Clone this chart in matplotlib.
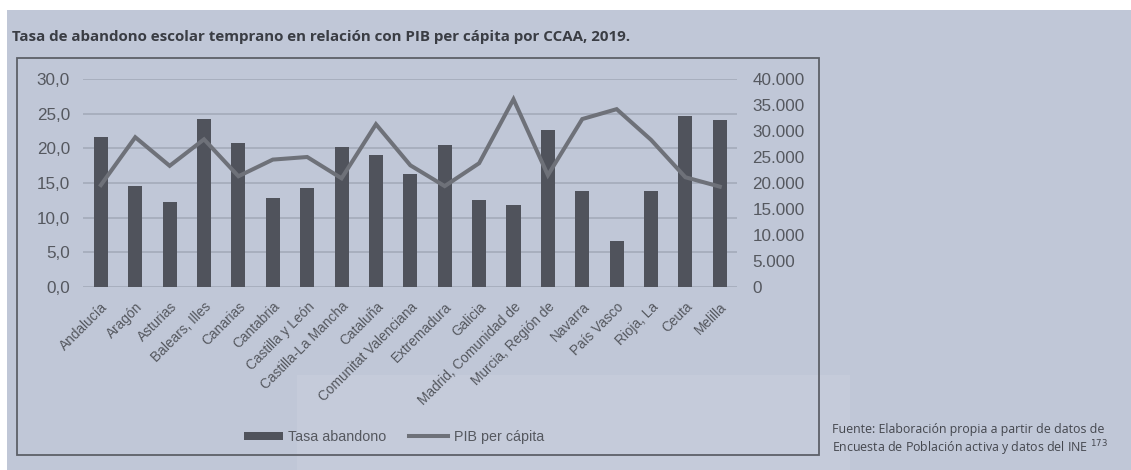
import matplotlib
matplotlib.use("Agg")
import matplotlib.pyplot as plt
from matplotlib.patches import Rectangle
from matplotlib.lines import Line2D
from matplotlib.patches import Patch

regiones = ["Andalucía", "Aragón", "Asturias", "Balears, Illes", "Canarias",
            "Cantabria", "Castilla y León", "Castilla-La Mancha", "Cataluña",
            "Comunitat Valenciana", "Extremadura", "Galicia",
            "Madrid, Comunidad de", "Murcia, Región de", "Navarra",
            "País Vasco", "Rioja, La", "Ceuta", "Melilla"]
tasa_abandono = [21.7, 14.6, 12.3, 24.2, 20.8, 12.8, 14.3, 20.2, 19.0,
                 16.3, 20.5, 12.6, 11.8, 22.6, 13.9, 6.7, 13.9, 24.7, 24.1]
pib_per_capita = [19600, 28800, 23300, 28400, 21300, 24500, 25000, 20900, 31300,
                  23400, 19400, 23800, 36100, 21500, 32300, 34200, 28300, 21100, 19300]
left_ticks = [0, 5, 10, 15, 20, 25, 30]
left_labels = ["0,0", "5,0", "10,0", "15,0", "20,0", "25,0", "30,0"]
right_ticks = [0, 5000, 10000, 15000, 20000, 25000, 30000, 35000, 40000]
right_labels = ["0", "5.000", "10.000", "15.000", "20.000", "25.000",
                "30.000", "35.000", "40.000"]

W, H = 1131, 470
BG = "#c0c7d7"
BAR = "#50535c"
LINE = "#6e7179"
GRID = "#a6adbc"
TXT = "#55585f"

fig = plt.figure(figsize=(W / 100, H / 100), dpi=100)
fig.patch.set_facecolor("white")
fig.add_artist(Rectangle((7 / W, 0), 1 - 7 / W, 1 - 10 / H, transform=fig.transFigure,
                         facecolor=BG, edgecolor="none", zorder=-10))
# faint watermark area
fig.add_artist(Rectangle((297 / W, 0), (850 - 297) / W, (470 - 375) / H,
                         transform=fig.transFigure, facecolor="#c5cbda",
                         edgecolor="none", zorder=-9))

# chart frame
fig.add_artist(Rectangle((17 / W, 1 - 455 / H), (819 - 17) / W, (455 - 58) / H,
                         transform=fig.transFigure, facecolor="none",
                         edgecolor="#5d6068", linewidth=1.3, zorder=1))

fig.text(12 / W, 1 - 37 / H, "Tasa de abandono escolar temprano en relación con PIB per cápita por CCAA, 2019.",
         fontsize=10.9, fontweight="bold", color="#3a3d44", family="Open Sans",
         va="center", ha="left")
fig.text(832 / W, 1 - 430 / H, "Fuente: Elaboración propia a partir de datos de",
         fontsize=8.9, color="#44474e", family="Open Sans", va="center", ha="left")
fig.text(832 / W, 1 - 448 / H, "Encuesta de Población activa y datos del INE $^{173}$",
         fontsize=8.9, color="#44474e", family="Open Sans", va="center", ha="left")

ax = fig.add_axes([83 / W, 1 - 287 / H, (737 - 83) / W, (287 - 79) / H])
ax.set_facecolor("none")
x = list(range(len(regiones)))
ax.bar(x, tasa_abandono, width=0.41, color=BAR, zorder=3)
ax.set_ylim(0, 30)
ax.set_xlim(-0.52, 18.5)
ax.set_yticks(left_ticks)
ax.set_yticklabels(left_labels)
ax.grid(axis="y", color=GRID, linewidth=1.3, zorder=0)
for s in ax.spines.values():
    s.set_visible(False)
ax.tick_params(axis="y", length=0, pad=9.4, labelsize=12.3, labelcolor=TXT)
ax.set_xticks(x)
ax.set_xticklabels(regiones, rotation=45, ha="right", rotation_mode="anchor",
                   fontsize=9.8, color=TXT, family="Liberation Sans")
ax.tick_params(axis="x", length=0, pad=9)
for lab in ax.get_yticklabels():
    lab.set_family("Liberation Sans")

ax2 = ax.twinx()
ax2.plot(x, pib_per_capita, color=LINE, linewidth=2.9, zorder=4, solid_joinstyle="miter")
ax2.set_ylim(0, 40000)
ax2.set_yticks(right_ticks)
ax2.set_yticklabels(right_labels)
ax2.tick_params(axis="y", length=0, pad=11, labelsize=12.3, labelcolor=TXT)
for lab in ax2.get_yticklabels():
    lab.set_family("Liberation Sans")
for s in ax2.spines.values():
    s.set_visible(False)

handles = [Patch(facecolor=BAR, edgecolor="none"),
           Line2D([0], [0], color=LINE, linewidth=2.9)]
fig.legend(handles, ["Tasa abandono", "PIB per cápita"], loc="center",
           bbox_to_anchor=(394 / W, 1 - 437 / H), ncol=2, frameon=False,
           prop={"family": "Liberation Sans", "size": 10.3}, labelcolor=TXT,
           handlelength=2.7, handleheight=0.5, handletextpad=0.4, columnspacing=1.6)

fig.savefig("out.png", dpi=100, facecolor=fig.get_facecolor())
